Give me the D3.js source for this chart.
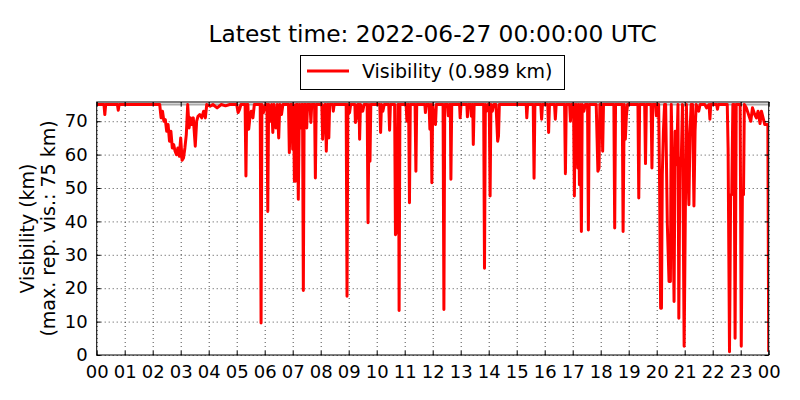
<!DOCTYPE html>
<html>
<head>
<meta charset="utf-8">
<script src="https://cdn.jsdelivr.net/npm/d3@7"></script>
<style>
  body { margin: 0; background: #fff; }
  svg { font-family: "DejaVu Sans", sans-serif; }
</style>
</head>
<body>
<div id="chart"></div>
<script>
//Chart data: hour of day (UTC) and visibility (km)
var hours = [
  0.00, 0.26, 0.29, 0.32, 0.74, 0.77, 0.80, 2.25, 2.30, 2.35, 2.40, 2.45, 2.50, 2.55, 2.60, 2.65,
  2.70, 2.75, 2.80, 2.85, 2.90, 2.95, 3.00, 3.05, 3.10, 3.15, 3.20, 3.25, 3.30, 3.35, 3.40, 3.45,
  3.52, 3.57, 3.62, 3.68, 3.75, 3.82, 3.88, 3.93, 4.05, 4.15, 4.30, 4.45, 4.60, 4.75, 5.00, 5.05,
  5.10, 5.15, 5.30, 5.33, 5.36, 5.40, 5.43, 5.47, 5.52, 5.58, 5.63, 5.84, 5.87, 5.90, 5.95, 6.03,
  6.08, 6.11, 6.14, 6.20, 6.25, 6.29, 6.33, 6.40, 6.45, 6.50, 6.54, 6.60, 6.65, 6.85, 6.88, 6.92,
  6.97, 7.00, 7.03, 7.06, 7.10, 7.13, 7.17, 7.20, 7.24, 7.28, 7.32, 7.35, 7.38, 7.41, 7.47, 7.50,
  7.53, 7.62, 7.65, 7.68, 7.78, 7.81, 7.84, 8.04, 8.07, 8.11, 8.15, 8.17, 8.20, 8.24, 8.27, 8.29,
  8.32, 8.43, 8.45, 8.48, 8.91, 8.94, 8.97, 9.03, 9.07, 9.22, 9.24, 9.28, 9.32, 9.37, 9.39, 9.42,
  9.50, 9.55, 9.66, 9.69, 9.73, 9.76, 9.79, 10.11, 10.14, 10.17, 10.22, 10.27, 10.43, 10.46, 10.49, 10.64,
  10.67, 10.72, 10.76, 10.78, 10.80, 10.83, 11.05, 11.08, 11.11, 11.14, 11.17, 11.20, 11.37, 11.40, 11.43, 11.72,
  11.74, 11.77, 11.87, 11.90, 11.94, 11.97, 12.00, 12.05, 12.10, 12.13, 12.37, 12.40, 12.43, 12.53, 12.56, 12.60,
  12.63, 12.65, 12.68, 12.96, 12.98, 13.01, 13.22, 13.24, 13.27, 13.36, 13.38, 13.41, 13.43, 13.45, 13.48, 13.82,
  13.85, 13.88, 13.92, 13.97, 14.02, 14.05, 14.08, 14.13, 14.18, 14.26, 14.29, 14.32, 14.35, 14.38, 15.34, 15.36,
  15.39, 15.59, 15.62, 15.65, 15.86, 15.89, 15.92, 16.11, 16.14, 16.17, 16.35, 16.38, 16.41, 16.71, 16.74, 16.77,
  16.89, 16.92, 16.95, 17.03, 17.06, 17.09, 17.12, 17.15, 17.18, 17.21, 17.24, 17.27, 17.31, 17.34, 17.40, 17.45,
  17.53, 17.56, 17.59, 17.84, 17.87, 17.90, 17.94, 17.97, 18.04, 18.07, 18.10, 18.47, 18.50, 18.53, 18.77, 18.80,
  18.84, 18.88, 18.92, 18.96, 19.33, 19.36, 19.39, 19.57, 19.60, 19.63, 19.80, 19.83, 19.86, 19.96, 19.99, 20.03,
  20.07, 20.10, 20.14, 20.17, 20.20, 20.24, 20.28, 20.32, 20.38, 20.44, 20.49, 20.52, 20.56, 20.62, 20.66, 20.71,
  20.76, 20.79, 20.83, 20.88, 20.92, 20.98, 21.02, 21.06, 21.10, 21.15, 21.19, 21.23, 21.28, 21.33, 21.37, 21.41,
  21.50, 21.55, 21.72, 21.78, 21.87, 21.90, 21.93, 22.14, 22.17, 22.20, 22.52, 22.55, 22.60, 22.64, 22.68, 22.72,
  22.76, 22.80, 22.84, 22.98, 23.02, 23.06, 23.10, 23.13, 23.20, 23.28, 23.36, 23.42, 23.50, 23.56, 23.62, 23.69,
  23.74, 23.80, 23.86, 23.92, 23.97, 24.00
];
var visibility = [
  75, 75, 72, 75, 75, 73.3, 75, 75, 71, 73, 70, 70.5, 67, 69, 64, 67,
  62, 63, 61, 60, 62, 59.5, 65, 58.3, 59, 62, 66, 75, 68, 71, 69, 71,
  62.5, 70, 71.5, 72, 71, 73, 71, 75, 74.5, 75, 74, 75, 74.6, 75, 75, 72.6,
  73.5, 75, 75, 53.6, 75, 75, 67.6, 71, 73, 71, 75, 75, 9.6, 75, 72.5, 75,
  75, 43, 75, 70, 75, 66.6, 75, 68, 75, 65, 75, 72, 75, 75, 60.6, 75,
  75, 61.6, 75, 52, 52, 75, 75, 46.6, 75, 68, 75, 75, 19.3, 75, 75, 68,
  75, 75, 69.6, 75, 75, 53, 75, 75, 64.6, 71, 75, 75, 61, 75, 75, 65,
  75, 75, 73, 75, 75, 17.6, 75, 72.5, 75, 75, 69.6, 71, 75, 75, 64.6, 75,
  73, 75, 75, 39.6, 75, 58, 75, 75, 66.6, 75, 73, 75, 75, 67.3, 75, 75,
  36, 37, 75, 75, 13.3, 75, 75, 70, 75, 75, 45.6, 75, 75, 55, 75, 75,
  72.6, 75, 75, 67.6, 75, 51.6, 75, 70, 69, 75, 75, 13.6, 75, 75, 71.6, 75,
  75, 52.6, 75, 75, 71, 75, 75, 71.3, 75, 75, 71.5, 75, 75, 63, 75, 75,
  26, 75, 73, 75, 75, 47.6, 75, 73, 75, 75, 69.6, 64, 65.6, 75, 75, 71,
  75, 75, 52.9, 75, 75, 70.6, 75, 75, 66.6, 75, 75, 70.6, 75, 75, 54.3, 75,
  75, 70, 75, 75, 47.6, 75, 62, 75, 56, 75, 51, 75, 37, 75, 73, 75,
  75, 37.4, 75, 75, 65, 55, 56, 75, 75, 61, 75, 75, 38, 75, 75, 37,
  75, 64.6, 72, 75, 75, 47, 75, 75, 57.3, 75, 75, 56, 75, 75, 71.6, 75,
  75, 54, 14, 14, 54, 67, 75, 75, 39, 22, 22, 75, 57, 16, 67, 57,
  75, 11, 59, 59, 75, 2.6, 40, 75, 59, 45, 67, 75, 75, 44.6, 67, 75,
  73, 75, 75, 74, 75, 70.6, 75, 75, 73.6, 75, 75, 62, 1, 48, 48, 75,
  75, 5, 75, 75, 2.6, 48, 48, 75, 74, 72, 70, 74, 72, 71, 73, 69.3,
  73, 71, 69, 69, 69, 0.989
];
var hourLabels = ["00", "01", "02", "03", "04", "05", "06", "07", "08", "09", "10", "11", "12",
  "13", "14", "15", "16", "17", "18", "19", "20", "21", "22", "23", "00"];
var hourTicks = d3.range(0, 25);
var visTicks = [0, 10, 20, 30, 40, 50, 60, 70];
var maxVis = 75;
var latestVis = 0.989;
var latestTime = "2022-06-27 00:00:00 UTC";

//Sets dimensions of SVG arena
var width = 800;
var height = 400;
var margin = {top: 102, right: 31.3, bottom: 45, left: 96.7};
var plotW = width - margin.left - margin.right;
var plotH = height - margin.top - margin.bottom;

var svg = d3.select("#chart").append("svg")
  .attr("width", width)
  .attr("height", height);

var x = d3.scaleLinear().domain([0, 24]).range([0, plotW]);
var y = d3.scaleLinear().domain([0, 75.75]).range([plotH, 0]);

var g = svg.append("g")
  .attr("transform", "translate(" + margin.left + "," + margin.top + ")");

g.append("clipPath").attr("id", "clip")
  .append("rect").attr("width", plotW).attr("height", plotH);

//Dotted grid
g.append("g")
  .attr("transform", "translate(0," + plotH + ")")
  .call(d3.axisBottom(x).tickValues(hourTicks).tickSize(-plotH).tickFormat(""))
  .call(function(s) { s.select(".domain").remove(); })
  .selectAll("line")
  .attr("stroke", "#000").attr("stroke-width", 0.7).attr("stroke-dasharray", "1,3");

g.append("g")
  .call(d3.axisLeft(y).tickValues(visTicks).tickSize(-plotW).tickFormat(""))
  .call(function(s) { s.select(".domain").remove(); })
  .selectAll("line")
  .attr("stroke", "#000").attr("stroke-width", 0.7).attr("stroke-dasharray", "1,3");

//Max reported visibility line
var plot = g.append("g").attr("clip-path", "url(#clip)");
plot.append("line")
  .attr("x1", 0).attr("x2", plotW)
  .attr("y1", y(maxVis)).attr("y2", y(maxVis))
  .attr("stroke", "#aaa").attr("stroke-width", 2);

var series = hours.map(function(h, i) { return [h, visibility[i]]; });
var line = d3.line()
  .x(function(d) { return x(d[0]); })
  .y(function(d) { return y(d[1]); });

plot.append("path")
  .datum(series)
  .attr("d", line)
  .attr("fill", "none")
  .attr("stroke", "#ff0000")
  .attr("stroke-width", 3)
  .attr("stroke-linejoin", "round");

//Axes with inward ticks on all four sides
function styleAxis(s) {
  s.select(".domain").remove();
  s.selectAll("line").attr("stroke", "#000").attr("stroke-width", 1);
  s.selectAll("text").attr("fill", "#000").style("font-size", "18px")
    .style("font-family", "DejaVu Sans, sans-serif");
}

g.append("g")
  .attr("transform", "translate(0," + plotH + ")")
  .call(d3.axisBottom(x).tickValues(hourTicks).tickSize(-4).tickPadding(10)
    .tickFormat(function(d, i) { return hourLabels[i]; }))
  .call(styleAxis);

g.append("g")
  .call(d3.axisTop(x).tickValues(hourTicks).tickSize(-4).tickFormat(""))
  .call(styleAxis);

g.append("g")
  .call(d3.axisLeft(y).tickValues(visTicks).tickSize(-4).tickPadding(9))
  .call(styleAxis);

g.append("g")
  .attr("transform", "translate(" + plotW + ",0)")
  .call(d3.axisRight(y).tickValues(visTicks).tickSize(-4).tickFormat(""))
  .call(styleAxis);

//Frame
g.append("rect")
  .attr("width", plotW).attr("height", plotH)
  .attr("fill", "none").attr("stroke", "#000").attr("stroke-width", 1);

//Y label
var ylab = svg.append("text")
  .attr("transform", "translate(0," + (margin.top + plotH / 2) + ") rotate(-90)")
  .attr("text-anchor", "middle")
  .style("font-size", "19px")
  .attr("fill", "#000");
ylab.append("tspan").attr("x", 0).attr("y", 33.5).text("Visibility (km)");
ylab.append("tspan").attr("x", 0).attr("y", 55).text("(max. rep. vis.: " + maxVis + " km)");

//Title
svg.append("text")
  .attr("x", margin.left + plotW / 2)
  .attr("y", 42)
  .attr("text-anchor", "middle")
  .style("font-size", "23.3px")
  .attr("fill", "#000")
  .text("Latest time: " + latestTime);

//Legend
var legend = svg.append("g");
legend.append("rect")
  .attr("x", 300.5).attr("y", 55.5).attr("width", 264).attr("height", 34)
  .attr("fill", "#fff").attr("stroke", "#000").attr("stroke-width", 1);
legend.append("line")
  .attr("x1", 307).attr("x2", 349).attr("y1", 71).attr("y2", 71)
  .attr("stroke", "#ff0000").attr("stroke-width", 3);
legend.append("text")
  .attr("x", 362).attr("y", 78)
  .style("font-size", "19px")
  .attr("fill", "#000")
  .text("Visibility (" + latestVis + " km)");
</script>
</body>
</html>
